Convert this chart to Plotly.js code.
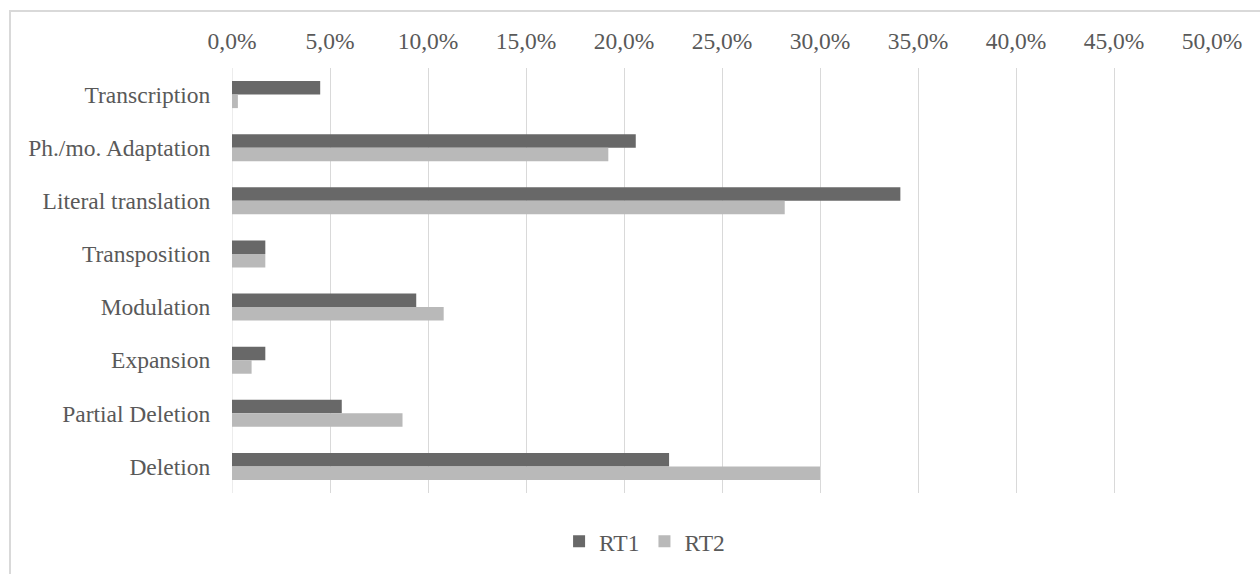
<!DOCTYPE html>
<html>
<head>
<meta charset="utf-8">
<script src="https://cdn.plot.ly/plotly-3.0.1.min.js"></script>
<style>
  html, body { margin: 0; padding: 0; background: #fff; }
  #wrap { position: relative; width: 1260px; height: 574px; overflow: hidden; }
  #chart { position: absolute; left: 0; top: 0; width: 1260px; height: 574px; }
  #frame { position: absolute; left: 9px; top: 10px; width: 1300px; height: 600px;
           border-left: 2px solid #d9d9d9; border-top: 2px solid #d9d9d9; pointer-events: none; }
</style>
</head>
<body>
<div id="wrap">
  <div id="chart"></div>
  <div id="frame"></div>
</div>
<script>
const categories = ["Transcription", "Ph./mo. Adaptation", "Literal translation", "Transposition",
                    "Modulation", "Expansion", "Partial Deletion", "Deletion"];
const rt1 = [4.5, 20.6, 34.1, 1.7, 9.4, 1.7, 5.6, 22.3];
const rt2 = [0.3, 19.2, 28.2, 1.7, 10.8, 1.0, 8.7, 30.0];
const seriesNames = ["RT1", "RT2"];

const font = { family: "Liberation Serif, Times New Roman, serif", size: 23.5, color: "#595959" };

const traces = [
  { type: "bar", orientation: "h", name: seriesNames[0], y: categories, x: rt1,
    marker: { color: "#686868" }, hoverinfo: "x+y" },
  { type: "bar", orientation: "h", name: seriesNames[1], y: categories, x: rt2,
    marker: { color: "#b9b9b9" }, hoverinfo: "x+y" }
];

const layout = {
  width: 1260, height: 574,
  margin: { l: 232, r: 48, t: 68, b: 80 },
  paper_bgcolor: "#fff", plot_bgcolor: "#fff",
  font: font,
  separators: ",.",
  barmode: "group",
  bargap: 0.49, bargroupgap: 0,
  showlegend: true,
  legend: { orientation: "h", x: 0.421, xanchor: "center", y: -0.06, yanchor: "top",
            font: font, traceorder: "normal" },
  xaxis: {
    side: "top", range: [0, 50], dtick: 5, tick0: 0,
    tickformat: ".1f", ticksuffix: "%",
    showgrid: true, gridcolor: "#d9d9d9", gridwidth: 1,
    zeroline: false, showline: false,
    ticks: "outside", ticklen: 9, tickcolor: "rgba(0,0,0,0)",
    fixedrange: true, tickfont: font
  },
  yaxis: {
    type: "category", categoryorder: "array", categoryarray: categories,
    autorange: "reversed",
    showgrid: false, zeroline: false, showline: false,
    ticks: "outside", ticklen: 16, tickcolor: "rgba(0,0,0,0)",
    tickfont: font, fixedrange: true
  },
  shapes: [
    { type: "line", xref: "x", yref: "paper", x0: 0, x1: 0, y0: 0, y1: 1,
      line: { color: "#d9d9d9", width: 1 }, layer: "below" }
  ]
};

Plotly.newPlot("chart", traces, layout, { displayModeBar: false, staticPlot: true });
</script>
</body>
</html>
